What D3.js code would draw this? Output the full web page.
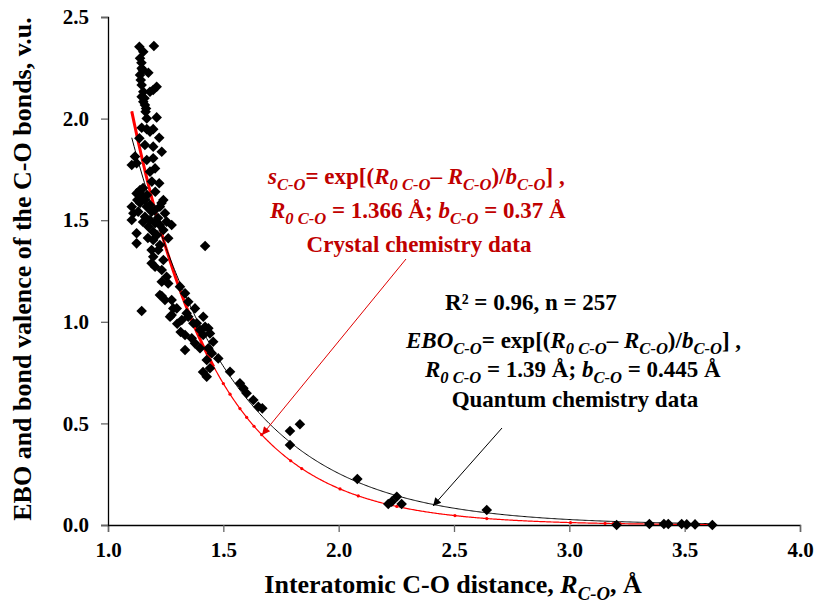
<!DOCTYPE html>
<html>
<head>
<meta charset="utf-8">
<script src="https://cdn.jsdelivr.net/npm/d3@7"></script>
<style>
  body { margin: 0; background: #fff; }
  svg { display: block; }
  text { font-family: "Liberation Serif", "Times New Roman", serif; font-weight: bold; }
</style>
</head>
<body>
<svg id="chart" width="819" height="605"></svg>
<script>
// quantum chemistry (EBO) points
const qx = [1.136,1.199,1.153,1.139,1.146,1.175,1.139,1.142,1.146,1.211,1.196,1.182,1.153,1.146,1.153,1.160,1.163,1.211,1.168,1.146,
  1.168,1.196,1.182,1.222,1.136,1.160,1.196,1.233,1.117,1.103,1.124,1.168,1.196,1.204,1.182,1.222,1.139,1.124,1.146,1.160,
  1.127,1.240,1.103,1.168,1.225,1.131,1.189,1.247,1.110,1.103,1.160,1.182,1.204,1.254,1.276,1.175,1.124,1.196,1.240,1.261,
  1.124,1.196,1.421,1.189,1.218,1.196,1.189,1.240,1.204,1.233,1.254,1.261,1.225,1.247,1.276,1.146,1.283,1.269,1.312,1.334,
  1.348,1.377,1.413,1.341,1.421,1.320,1.370,1.233,1.233,1.298,1.276,1.348,1.385,1.435,1.399,1.334,1.363,1.413,1.442,1.456,
  1.377,1.399,1.334,1.435,1.450,1.478,1.428,1.442,1.428,1.412,1.529,1.572,1.587,1.601,1.630,1.652,1.669,1.789,1.832,1.789,
  2.081,2.252,2.215,2.230,2.273,2.642,3.205,3.347,3.410,3.429,3.487,3.509,3.545,3.620,
  1.152,1.169,1.139,1.182,1.204,1.217,1.225,1.152,1.212,1.173,1.225,1.145,1.150,1.158,1.165,1.190,1.205,1.232,1.300,1.315];
const qy = [2.354,2.357,2.329,2.297,2.248,2.226,2.215,2.190,2.165,2.157,2.141,2.132,2.132,2.108,2.083,2.067,2.034,2.006,2.001,1.955,
  1.948,1.948,1.936,1.906,1.903,1.870,1.862,1.837,1.813,1.772,1.780,1.796,1.805,1.755,1.739,1.682,1.649,1.632,1.624,1.599,
  1.599,1.599,1.566,1.566,1.566,1.542,1.542,1.534,1.534,1.501,1.517,1.501,1.485,1.493,1.476,1.468,1.436,1.443,1.452,1.411,
  1.386,1.403,1.373,1.353,1.353,1.320,1.288,1.304,1.271,1.255,1.222,1.189,1.132,1.107,1.107,1.053,1.066,1.025,1.173,1.140,
  1.099,1.066,1.025,1.042,0.976,1.009,0.993,1.197,1.127,1.066,1.033,1.025,0.993,0.968,0.960,0.935,0.919,0.935,0.943,0.902,
  0.894,0.870,0.861,0.870,0.845,0.820,0.812,0.771,0.730,0.753,0.754,0.697,0.673,0.648,0.615,0.582,0.574,0.463,0.496,0.394,
  0.226,0.139,0.103,0.115,0.103,0.074,0.000,0.005,0.005,0.005,0.005,0.003,0.003,0.000,
  1.658,1.624,1.585,1.575,1.550,1.511,1.476,1.491,1.427,1.412,1.378,2.275,2.240,2.100,2.050,1.690,1.640,1.585,0.990,0.950];

// crystal chemistry markers sitting on the red curve
const crystalX = [1.500,1.529,1.572,1.601,1.633,1.666,1.792,1.840,2.006,2.085,2.252,2.504,2.642,3.005,3.155,3.190,3.220];

// fit parameters, from the chart's own annotation
const R0q = 1.39, bq = 0.445;
const R0c = 1.366, bc = 0.37;
const fitRange = [1.103, 3.62];

const xTicks = [1.0, 1.5, 2.0, 2.5, 3.0, 3.5, 4.0];
const yTicks = [0.0, 0.5, 1.0, 1.5, 2.0, 2.5];

const svg = d3.select("#chart");
const x = d3.scaleLinear().domain([1, 4]).range([108, 800]);
const y = d3.scaleLinear().domain([0, 2.5]).range([525, 17]);

const ebo = (r) => Math.exp((R0q - r) / bq);
const bv = (r) => Math.exp((R0c - r) / bc);

// axes
const xAxis = svg.append("g")
  .attr("transform", `translate(0,${y(0)})`)
  .call(d3.axisBottom(x).tickValues(xTicks).tickSize(7).tickFormat(d3.format(".1f")));
const yAxis = svg.append("g")
  .attr("transform", `translate(${x(1)},0)`)
  .call(d3.axisLeft(y).tickValues(yTicks).tickSize(7).tickFormat(d3.format(".1f")));

[xAxis, yAxis].forEach((a) => {
  a.select(".domain").attr("stroke", "#000").attr("stroke-width", 1.3);
  a.selectAll(".tick line").attr("stroke", "#666").attr("stroke-width", 1.3);
  a.selectAll(".tick text").attr("fill", "#000")
    .style("font-size", "21px");
});
xAxis.selectAll(".tick text").attr("y", 17).attr("dy", "0.71em");
yAxis.selectAll(".tick text").attr("x", -19);

// fitted curves
const sample = d3.range(fitRange[0], fitRange[1], 0.005).concat([fitRange[1]]);
const line = (f) => d3.line().x((d) => x(d)).y((d) => y(f(d)));

svg.append("path")
  .attr("d", line(bv)(sample))
  .attr("fill", "none")
  .attr("stroke", "#ff0000")
  .attr("stroke-width", 1.2);

svg.append("path")
  .attr("d", line(bv)(sample.filter((d) => d <= 1.46)))
  .attr("fill", "none")
  .attr("stroke", "#ff0000")
  .attr("stroke-width", 3);

svg.append("g")
  .selectAll("circle")
  .data(crystalX)
  .join("circle")
  .attr("cx", (d) => x(d))
  .attr("cy", (d) => y(bv(d)))
  .attr("r", 1.6)
  .attr("fill", "#ff0000");

svg.append("path")
  .attr("d", line(ebo)(sample))
  .attr("fill", "none")
  .attr("stroke", "#000")
  .attr("stroke-width", 1);

// scatter
const diamond = d3.symbol().type(d3.symbolSquare).size(56);
svg.append("g")
  .selectAll("path")
  .data(qx.map((d, i) => [d, qy[i]]))
  .join("path")
  .attr("d", diamond)
  .attr("transform", (d) => `translate(${x(d[0])},${y(d[1])}) rotate(45)`)
  .attr("fill", "#000");

// arrows
const defs = svg.append("defs");
function marker(id, color) {
  defs.append("marker")
    .attr("id", id)
    .attr("viewBox", "0 0 10 10")
    .attr("refX", 10).attr("refY", 5)
    .attr("markerWidth", 11).attr("markerHeight", 8)
    .attr("markerUnits", "userSpaceOnUse")
    .attr("orient", "auto")
    .append("path")
    .attr("d", "M0,0 L10,5 L0,10 Z")
    .attr("fill", color);
}
marker("arrRed", "#e00000");
marker("arrBlack", "#000");

svg.append("line")
  .attr("x1", 406).attr("y1", 259).attr("x2", 262).attr("y2", 435)
  .attr("stroke", "#e00000").attr("stroke-width", 1)
  .attr("marker-end", "url(#arrRed)");
svg.append("line")
  .attr("x1", 502).attr("y1", 428).attr("x2", 433).attr("y2", 506)
  .attr("stroke", "#000").attr("stroke-width", 1)
  .attr("marker-end", "url(#arrBlack)");

// rich text helper: n = upright, i = italic, s = italic subscript
function rich(xPos, yPos, parts, color, size, anchor) {
  const t = svg.append("text")
    .attr("x", xPos).attr("y", yPos)
    .attr("fill", color)
    .attr("text-anchor", anchor || "start")
    .style("font-size", size + "px");
  let low = false;
  parts.forEach(([str, kind]) => {
    const sp = t.append("tspan").text(str);
    if (kind === "s") {
      sp.style("font-style", "italic").style("font-size", (size * 0.72) + "px");
      if (!low) { sp.attr("dy", size * 0.25); low = true; }
    } else {
      if (low) { sp.attr("dy", -size * 0.25); low = false; }
      if (kind === "i") sp.style("font-style", "italic");
    }
  });
  return t;
}

const red = "#c00000";
rich(268, 184, [["s", "i"], ["C-O", "s"], ["= exp[(", "n"], ["R", "i"], ["0 C-O", "s"], ["\u2013 ", "n"], ["R", "i"], ["C-O", "s"],
  [")/", "n"], ["b", "i"], ["C-O", "s"], ["] ,", "n"]], red, 23);
rich(270, 218, [["R", "i"], ["0 C-O", "s"], [" = 1.366 Å; ", "n"], ["b", "i"], ["C-O", "s"], [" = 0.37 Å", "n"]], red, 23);
rich(419, 252, [["Crystal chemistry data", "n"]], red, 23, "middle");

rich(531, 310, [["R² = 0.96, n = 257", "n"]], "#000", 23, "middle");
rich(406, 348, [["EBO", "i"], ["C-O", "s"], ["= exp[(", "n"], ["R", "i"], ["0 C-O", "s"], ["\u2013 ", "n"], ["R", "i"], ["C-O", "s"],
  [")/", "n"], ["b", "i"], ["C-O", "s"], ["] ,", "n"]], "#000", 23);
rich(425, 377, [["R", "i"], ["0 C-O", "s"], [" = 1.39 Å; ", "n"], ["b", "i"], ["C-O", "s"], [" = 0.445 Å", "n"]], "#000", 23);
rich(575, 407, [["Quantum chemistry data", "n"]], "#000", 23, "middle");

// axis titles
rich(453, 593, [["Interatomic C-O distance, ", "n"], ["R", "i"], ["C-O", "s"], [", Å", "n"]], "#000", 26, "middle");
rich(0, 0, [["EBO and bond valence of the C-O bonds, v.u.", "n"]], "#000", 26, "middle")
  .attr("transform", "translate(31,269) rotate(-90)");
</script>
</body>
</html>
